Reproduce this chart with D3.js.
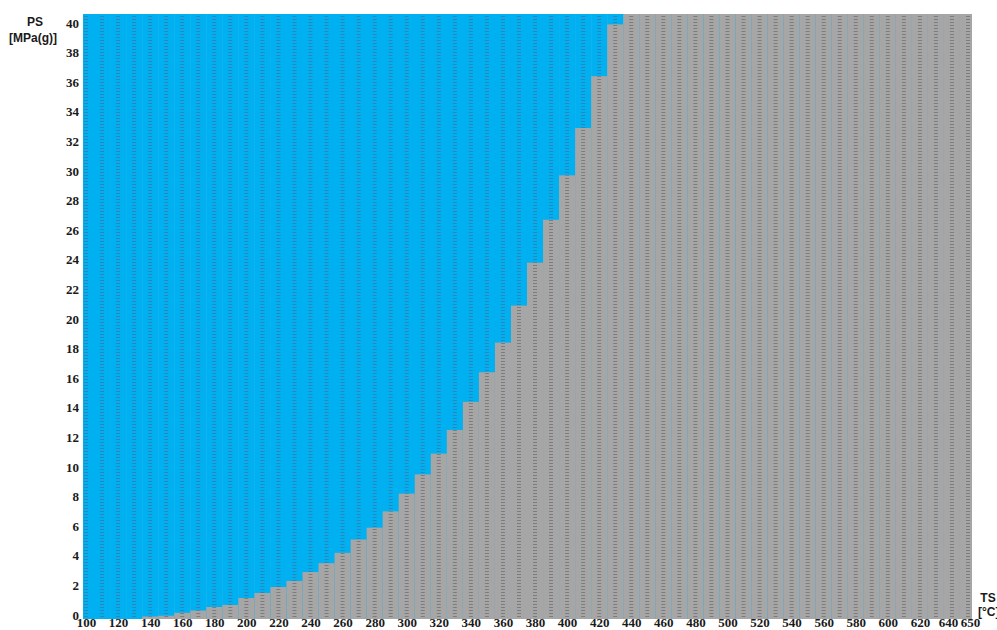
<!DOCTYPE html>
<html>
<head>
<meta charset="utf-8">
<script src="https://cdn.jsdelivr.net/npm/d3@7"></script>
<style>
  html, body { margin: 0; padding: 0; background: #fff; }
  svg { display: block; }
  .tick text { font-family: "Liberation Serif", "Times New Roman", serif; font-weight: bold; font-size: 13px; fill: #1a1a1a; }
  .ttl { font-family: "Liberation Sans", Arial, sans-serif; font-weight: bold; font-size: 12px; fill: #1a1a1a; }
</style>
</head>
<body>
<svg id="chart" width="997" height="630"></svg>
<script>
// Temperature columns (°C), one per 10 °C
const temps = d3.range(100, 651, 10);
// Boundary pressure per column, MPa(g): gray below, blue above.
// null = boundary below the axis; values above the axis top fill the column.
const boundary = [
  null, null, null, null, -0.1, -0.05, 0.15, 0.3, 0.54, 0.68,
  1.15, 1.49, 1.89, 2.3, 2.9, 3.5, 4.2, 5.1, 5.9, 7.0,
  8.2, 9.5, 10.9, 12.5, 14.4, 16.4, 18.4, 20.9, 23.8, 26.7,
  29.7, 32.9, 36.4, 39.9, 45, 45, 45, 45, 45, 45,
  45, 45, 45, 45, 45, 45, 45, 45, 45, 45,
  45, 45, 45, 45, 45, 45
];
const xTicks = [100,120,140,160,180,200,220,240,260,280,300,320,340,360,380,400,420,440,460,480,500,520,540,560,580,600,620,640,650];
const yTicks = d3.range(0, 41, 2);

const plot = { left: 83, right: 972, top: 14, bottom: 619 };
const svg = d3.select("#chart");

const x = d3.scaleLinear().domain([100, 650]).range([86, 968]);
const y = d3.scaleLinear().domain([-0.27, 40.6]).range([plot.bottom, plot.top]).clamp(true);
const colW = x(110) - x(100);

const blue = "#00b0f0", gray = "#a6a6a6";

const defs = svg.append("defs");
defs.append("clipPath").attr("id", "plotClip").append("rect")
  .attr("x", plot.left).attr("y", plot.top)
  .attr("width", plot.right - plot.left).attr("height", plot.bottom - plot.top);

function hatch(id, bg, line) {
  const p = defs.append("pattern").attr("id", id)
    .attr("patternUnits", "userSpaceOnUse").attr("width", 4).attr("height", 3);
  p.append("rect").attr("width", 4).attr("height", 3).attr("fill", bg);
  p.append("rect").attr("y", 1).attr("width", 4).attr("height", 1).attr("fill", line);
}
hatch("hatchBlue", blue, "#2a86b8");
hatch("hatchGray", gray, "#7c7c7c");

const g = svg.append("g").attr("clip-path", "url(#plotClip)");
const data = temps.map((t, i) => ({ t, p: boundary[i] }));
const edgeY = d => d.p === null ? plot.bottom : y(d.p);

const cols = g.selectAll("g.col").data(data).join("g").attr("class", "col");
cols.append("rect")
  .attr("x", d => x(d.t) - colW / 2).attr("width", colW + 0.5)
  .attr("y", plot.top).attr("height", plot.bottom - plot.top)
  .attr("fill", blue);
cols.append("rect")
  .attr("x", d => x(d.t) - colW / 2).attr("width", colW + 0.5)
  .attr("y", edgeY).attr("height", d => plot.bottom - edgeY(d))
  .attr("fill", gray);
// dashed stripes along each column
const sw = 4;
cols.append("rect")
  .attr("x", d => x(d.t) - sw / 2).attr("width", sw)
  .attr("y", plot.top).attr("height", d => edgeY(d) - plot.top)
  .attr("fill", "url(#hatchBlue)");
cols.append("rect")
  .attr("x", d => x(d.t) - sw / 2).attr("width", sw)
  .attr("y", edgeY).attr("height", d => plot.bottom - edgeY(d))
  .attr("fill", "url(#hatchGray)");

// axes (labels only, no domain lines)
const xAxis = d3.axisBottom(x).tickValues(xTicks).tickSize(0).tickPadding(0).tickFormat(d3.format("d"));
const gx = svg.append("g").attr("transform", `translate(0,${plot.bottom})`).call(xAxis)
  .attr("font-family", null).attr("font-size", null);
gx.select(".domain").remove();
gx.selectAll("text").attr("dy", null).attr("y", 8);
// keep the 640 and 650 labels apart
gx.selectAll(".tick").filter(d => d === 650).select("text").attr("dx", 2);
gx.selectAll(".tick").filter(d => d === 640).select("text").attr("dx", -4);

const yAxis = d3.axisLeft(y).tickValues(yTicks).tickSize(0).tickPadding(0).tickFormat(d3.format("d"));
const gy = svg.append("g").attr("transform", `translate(${plot.left - 4},0)`).call(yAxis)
  .attr("font-family", null).attr("font-size", null);
gy.select(".domain").remove();

svg.append("text").attr("class", "ttl").attr("x", 35).attr("y", 26).attr("text-anchor", "middle").text("PS");
svg.append("text").attr("class", "ttl").attr("x", 33).attr("y", 42).attr("text-anchor", "middle").text("[MPa(g)]");
svg.append("text").attr("class", "ttl").attr("x", 988).attr("y", 602).attr("text-anchor", "middle").text("TS");
svg.append("text").attr("class", "ttl").attr("x", 978).attr("y", 616).text("[°C]");
</script>
</body>
</html>
